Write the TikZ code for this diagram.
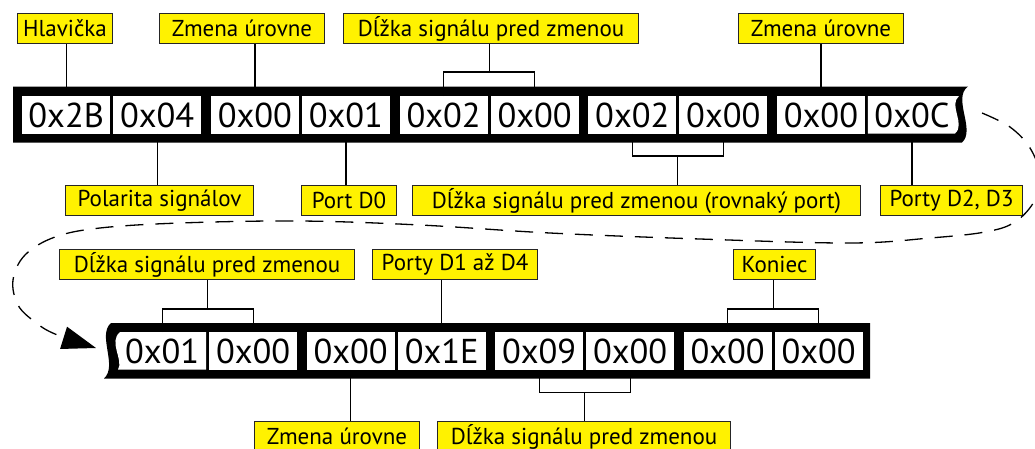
\documentclass[tikz,border=0pt]{standalone}
\usepackage{fontspec}
\setmainfont{PT Sans}
\usetikzlibrary{arrows.meta,calc}
\definecolor{lab}{RGB}{255,242,0}
\tikzset{
  cell/.style={fill=white, minimum width=88pt, minimum height=37.5pt, inner sep=0pt,
    font=\fontsize{34.5}{36}\selectfont, anchor=north west},
  wcell/.style={cell, fill=none},
  lbl/.style={fill=lab, draw=black!85, line width=1.1pt, inner sep=0pt, minimum height=30pt,
    font=\fontsize{23}{26}\selectfont, anchor=north west},
  conn/.style={line width=1.2pt},
  bar/.style={fill=black},
  whiteshape/.style={fill=white},
  flow/.style={line width=1.3pt, dash pattern=on 18pt off 12pt,
    -{Triangle[length=34pt,width=23pt]}}
}
\begin{document}
\begin{tikzpicture}[x=1pt,y=-1pt]
\useasboundingbox (0,0) rectangle (1035,448);
\clip (0,0) rectangle (1035,448);
\fill[white] (0,0) rectangle (1035,448);

% ---- top bar
\path[bar] (13,86.5) -- (968,86.5) .. controls (952,98) and (976,130) .. (962,142.5) -- (13,142.5) -- cycle;
\path[whiteshape] (867.8,96) -- (959,96) .. controls (948,105) and (966,124) .. (955,133.5) -- (867.8,133.5) -- cycle;
\node[cell] (c1) at (22,96) {0x2B};
\node[cell] (c2) at (113,96) {0x04};
\node[cell] (c3) at (210.7,96) {0x00};
\node[cell] (c4) at (301.7,96) {0x01};
\node[cell] (c5) at (399.4,96) {0x02};
\node[cell] (c6) at (490.4,96) {0x00};
\node[cell] (c7) at (588.1,96) {0x02};
\node[cell] (c8) at (679.1,96) {0x00};
\node[cell] (c9) at (776.8,96) {0x00};
\node[wcell] (c10) at (867.8,96) {0x0C};

% ---- bottom bar
\path[bar] (111,323) .. controls (97,335) and (118,366) .. (104,378.5) -- (870,378.5) -- (870,323) -- cycle;
\path[whiteshape] (120,332) -- (206,332) -- (206,369.5) -- (118,369.5) .. controls (124,360) and (108,342) .. (120,332) -- cycle;
\node[wcell] (d1) at (118,332) {0x01};
\node[cell] (d2) at (209,332) {0x00};
\node[cell] (d3) at (306.5,332) {0x00};
\node[cell] (d4) at (397.5,332) {0x1E};
\node[cell] (d5) at (495,332) {0x09};
\node[cell] (d6) at (586,332) {0x00};
\node[cell] (d7) at (683.5,332) {0x00};
\node[cell] (d8) at (774.5,332) {0x00};

% ---- labels
\node[lbl, minimum width=95pt] (l1) at (17,13) {Hlavička};
\node[lbl, minimum width=165pt] (l2) at (159,13) {Zmena úrovne};
\node[lbl, minimum width=295pt] (l3) at (343,13) {Dĺžka signálu pred zmenou};
\node[lbl, minimum width=165pt] (l4) at (738,13) {Zmena úrovne};
\node[lbl, minimum width=188pt] (l5) at (65,185) {Polarita signálov};
\node[lbl, minimum width=95pt] (l6) at (301,185) {Port D0};
\node[lbl, minimum width=448pt] (l7) at (412,185) {Dĺžka signálu pred zmenou (rovnaký port)};
\node[lbl, minimum width=142pt] (l8) at (880,185) {Porty D2, D3};
\node[lbl, minimum width=295pt] (l9) at (59,249) {Dĺžka signálu pred zmenou};
\node[lbl, minimum width=165pt] (l10) at (372,249) {Porty D1 až D4};
\node[lbl, minimum width=82pt] (l11) at (733,249) {Koniec};
\node[lbl, minimum width=165pt] (l12) at (254,421) {Zmena úrovne};
\node[lbl, minimum width=293pt] (l13) at (437,421) {Dĺžka signálu pred zmenou};

% ---- connectors, top row
\draw[conn] (l1.south -| c1.north) -- (c1.north);
\draw[conn] (l2.south -| c3.north) -- (c3.north);
\draw[conn] (c5.north) -- ++(0,-24) coordinate (b3a) -| (c6.north);
\coordinate (m3) at ($(b3a)!.5!(b3a -| c6.north)$);
\draw[conn] (m3) -- (m3 |- l3.south);
\draw[conn] (l4.south -| c9.north) -- (c9.north);
\draw[conn] (c2.south) -- (c2.south |- l5.north);
\draw[conn] (c4.south) -- (c4.south |- l6.north);
\draw[conn] (c7.south) -- ++(0,22) coordinate (b7a) -| (c8.south);
\coordinate (m7) at ($(b7a)!.5!(b7a -| c8.south)$);
\draw[conn] (m7) -- (m7 |- l7.north);
\draw[conn] (c10.south) -- (c10.south |- l8.north);

% ---- connectors, bottom row
\draw[conn] (d1.north) -- ++(0,-23) coordinate (b9a) -| (d2.north);
\coordinate (m9) at ($(b9a)!.5!(b9a -| d2.north)$);
\draw[conn] (m9) -- (m9 |- l9.south);
\draw[conn] (l10.south -| d4.north) -- (d4.north);
\draw[conn] (d7.north) -- ++(0,-23) coordinate (b11a) -| (d8.north);
\coordinate (m11) at ($(b11a)!.5!(b11a -| d8.north)$);
\draw[conn] (m11) -- (m11 |- l11.south);
\draw[conn] (d3.south) -- (d3.south |- l12.north);
\draw[conn] (d5.south) -- ++(0,22.5) coordinate (b13a) -| (d6.south);
\coordinate (m13) at ($(b13a)!.5!(b13a -| d6.south)$);
\draw[conn] (m13) -- (m13 |- l13.north);

% ---- continuation arrow
\coordinate (ds) at (982,113);
\coordinate (de) at (96,348);
\draw[flow] plot[smooth, tension=0.6] coordinates {(ds) (1010,127) (1030,148) (1040,175) (1035,200) (1015,222) (985,232) (930,238) (850,243) (700,239) (550,233) (420,225) (300,221) (180,223) (100,228) (55,237) (25,255) (13,280) (18,305) (35,322) (55,334) (de)};
\end{tikzpicture}
\end{document}
